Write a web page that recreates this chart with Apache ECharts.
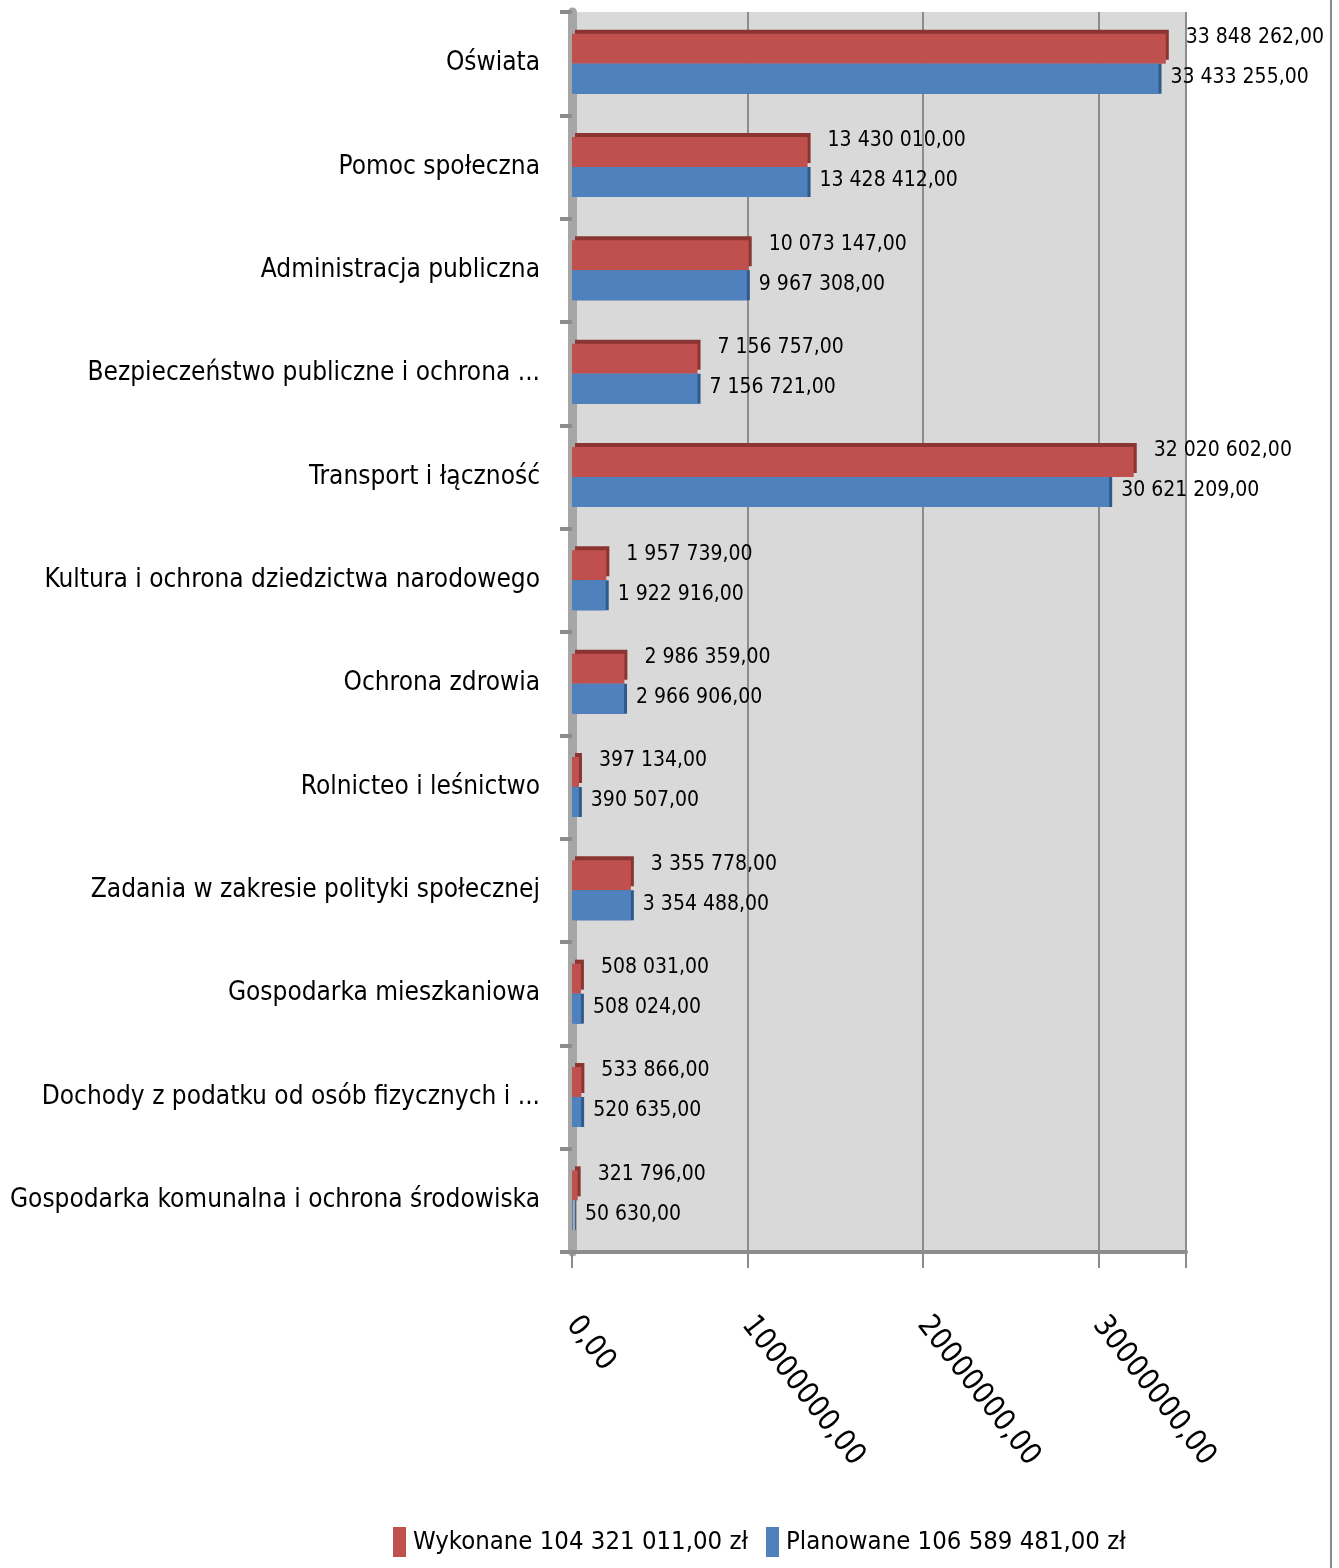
<!DOCTYPE html>
<html>
<head>
<meta charset="utf-8">
<script src="https://cdn.jsdelivr.net/npm/echarts@6/dist/echarts.min.js"></script>
<style>
  html, body { margin: 0; padding: 0; background: #fff; }
  #main { width: 1339px; height: 1568px; }
</style>
</head>
<body>
<div id="main"></div>
<script>
const categories = [
  'Oświata',
  'Pomoc społeczna',
  'Administracja publiczna',
  'Bezpieczeństwo publiczne i ochrona ...',
  'Transport i łączność',
  'Kultura i ochrona dziedzictwa narodowego',
  'Ochrona zdrowia',
  'Rolnicteo i leśnictwo',
  'Zadania w zakresie polityki społecznej',
  'Gospodarka mieszkaniowa',
  'Dochody z podatku od osób fizycznych i ...',
  'Gospodarka komunalna i ochrona środowiska'
];
const wykonane = [33848262, 13430010, 10073147, 7156757, 32020602, 1957739, 2986359, 397134, 3355778, 508031, 533866, 321796];
const planowane = [33433255, 13428412, 9967308, 7156721, 30621209, 1922916, 2966906, 390507, 3354488, 508024, 520635, 50630];
const seriesNames = ['Wykonane 104 321 011,00 zł', 'Planowane 106 589 481,00 zł'];

const FONT = '"DejaVu Sans Condensed", "Liberation Sans Narrow", "Liberation Sans", sans-serif';

// 33848262 -> "33 848 262,00"
function fmt(v) {
  let s = v.toFixed(2).split('.');
  return s[0].replace(/\B(?=(\d{3})+(?!\d))/g, ' ') + ',' + s[1];
}

const chart = echarts.init(document.getElementById('main'));

const option = {
  backgroundColor: '#fff',
  animation: false,
  textStyle: { fontFamily: FONT },
  grid: {
    left: 572, right: 153, top: 12, bottom: 316,
    outerBoundsMode: 'none',
    containLabel: false,
    show: true, backgroundColor: '#d9d9d9', borderWidth: 0
  },
  legend: {
    data: seriesNames,
    bottom: 6,
    left: 388,
    icon: 'rect',
    itemWidth: 13,
    itemHeight: 30,
    itemGap: 18,
    textStyle: { fontSize: 25.5, color: '#000', fontFamily: FONT, padding: [0, 0, 0, 2] }
  },
  xAxis: {
    type: 'value',
    min: 0,
    max: 35000000,
    interval: 10000000,
    axisLine: { show: true, lineStyle: { color: '#8c8c8c', width: 4 } },
    axisTick: { show: true, length: 16, lineStyle: { color: '#8c8c8c', width: 2 } },
    splitLine: { show: true, lineStyle: { color: '#8c8c8c', width: 2 } },
    axisLabel: {
      rotate: -52,
      margin: 68,
      fontSize: 30,
      color: '#000',
      fontFamily: FONT,
      formatter: v => (v % 10000000 === 0 ? v + ',00' : '')
    }
  },
  yAxis: {
    type: 'category',
    inverse: true,
    data: categories,
    axisLine: { show: true, lineStyle: { color: '#a6a6a6', width: 9 } },
    axisTick: { show: true, length: 12, lineStyle: { color: '#8c8c8c', width: 4 } },
    axisLabel: { fontSize: 26, color: '#000', margin: 32, fontFamily: FONT }
  },
  series: [
    {
      name: seriesNames[0],
      type: 'bar',
      data: wykonane,
      barWidth: 30,
      barGap: '0%',
      itemStyle: {
        color: '#c0504d',
        shadowColor: '#8b3532',
        shadowOffsetX: 3,
        shadowOffsetY: -4,
        shadowBlur: 0
      },
      label: {
        show: true,
        position: 'right',
        distance: 20,
        offset: [0, -11],
        fontSize: 21,
        color: '#000',
        fontFamily: FONT,
        formatter: p => fmt(p.value)
      }
    },
    {
      name: seriesNames[1],
      type: 'bar',
      data: planowane,
      barWidth: 30,
      barGap: '0%',
      itemStyle: {
        color: '#4f81bd',
        shadowColor: '#2f5a8c',
        shadowOffsetX: 3,
        shadowOffsetY: 0,
        shadowBlur: 0
      },
      label: {
        show: true,
        position: 'right',
        distance: 12,
        offset: [0, -1],
        fontSize: 21,
        color: '#000',
        fontFamily: FONT,
        formatter: p => fmt(p.value)
      }
    }
  ],
  graphic: [
    {
      type: 'line',
      shape: { x1: 1331, y1: 0, x2: 1331, y2: 1568 },
      style: { stroke: '#8c8c8c', lineWidth: 2 }
    }
  ]
};

chart.setOption(option);

window.onresize = () => chart.resize();
</script>
</body>
</html>
